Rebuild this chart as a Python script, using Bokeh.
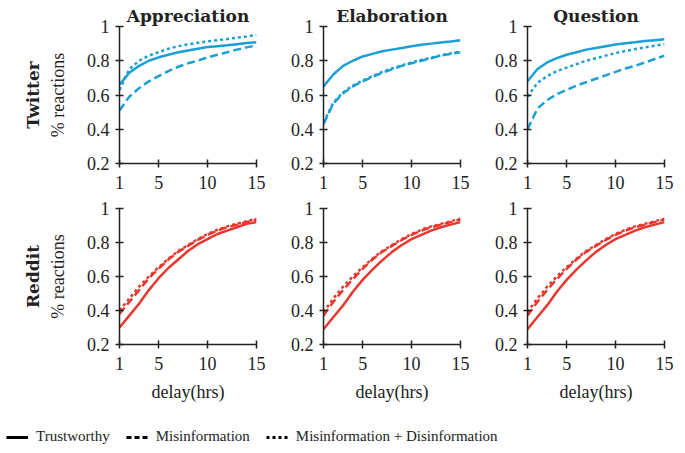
from bokeh.plotting import figure
from bokeh.layouts import row, column
from bokeh.models import FixedTicker, CustomJSTickFormatter, Title, Legend, LegendItem, Range1d
from bokeh.embed import file_html
from bokeh.resources import INLINE

# ---------------- data ----------------
delays = list(range(1, 16))
categories = ["Appreciation", "Elaboration", "Question"]
platforms = ["Twitter", "Reddit"]
series_names = ["Trustworthy", "Misinformation", "Misinformation + Disinformation"]
x_ticks = [1, 5, 10, 15]
y_ticks = [0.2, 0.4, 0.6, 0.8, 1.0]

tw_app_trust = [0.66, 0.73, 0.77, 0.80, 0.82, 0.835, 0.85, 0.86, 0.87, 0.88, 0.885, 0.89, 0.897, 0.903, 0.908]
tw_app_mis = [0.51, 0.59, 0.64, 0.68, 0.71, 0.74, 0.765, 0.785, 0.80, 0.82, 0.835, 0.85, 0.865, 0.878, 0.89]
tw_app_misdis = [0.63, 0.75, 0.80, 0.83, 0.85, 0.87, 0.885, 0.895, 0.905, 0.913, 0.92, 0.927, 0.935, 0.942, 0.95]

tw_ela_trust = [0.65, 0.72, 0.77, 0.80, 0.825, 0.84, 0.855, 0.865, 0.875, 0.885, 0.893, 0.90, 0.907, 0.913, 0.92]
tw_ela_mis = [0.43, 0.55, 0.61, 0.65, 0.68, 0.705, 0.73, 0.75, 0.77, 0.785, 0.80, 0.815, 0.83, 0.84, 0.85]
tw_ela_misdis = [0.44, 0.555, 0.615, 0.655, 0.685, 0.71, 0.735, 0.755, 0.773, 0.79, 0.805, 0.818, 0.832, 0.843, 0.853]

tw_que_trust = [0.68, 0.75, 0.79, 0.815, 0.835, 0.85, 0.865, 0.875, 0.885, 0.895, 0.902, 0.908, 0.915, 0.92, 0.925]
tw_que_mis = [0.40, 0.52, 0.57, 0.605, 0.63, 0.655, 0.675, 0.695, 0.715, 0.735, 0.755, 0.77, 0.79, 0.81, 0.83]
tw_que_misdis = [0.59, 0.67, 0.71, 0.74, 0.76, 0.78, 0.80, 0.815, 0.83, 0.845, 0.857, 0.868, 0.878, 0.888, 0.897]

rd_app_trust = [0.30, 0.37, 0.44, 0.52, 0.59, 0.65, 0.70, 0.75, 0.79, 0.82, 0.85, 0.87, 0.89, 0.91, 0.92]
rd_app_mis = [0.38, 0.45, 0.52, 0.59, 0.645, 0.70, 0.745, 0.78, 0.815, 0.845, 0.87, 0.89, 0.905, 0.92, 0.935]
rd_app_misdis = [0.40, 0.47, 0.54, 0.60, 0.655, 0.705, 0.75, 0.785, 0.82, 0.85, 0.875, 0.895, 0.91, 0.925, 0.94]

rd_ela_trust = [0.29, 0.36, 0.43, 0.51, 0.58, 0.64, 0.695, 0.745, 0.785, 0.82, 0.845, 0.87, 0.89, 0.905, 0.92]
rd_ela_mis = [0.37, 0.45, 0.52, 0.585, 0.645, 0.70, 0.745, 0.78, 0.815, 0.845, 0.87, 0.89, 0.905, 0.92, 0.935]
rd_ela_misdis = [0.39, 0.47, 0.54, 0.60, 0.655, 0.705, 0.75, 0.785, 0.82, 0.85, 0.875, 0.895, 0.91, 0.925, 0.94]

rd_que_trust = [0.29, 0.36, 0.43, 0.51, 0.58, 0.64, 0.695, 0.745, 0.785, 0.82, 0.845, 0.87, 0.89, 0.905, 0.92]
rd_que_mis = [0.37, 0.45, 0.52, 0.585, 0.645, 0.70, 0.745, 0.78, 0.815, 0.845, 0.87, 0.89, 0.905, 0.92, 0.935]
rd_que_misdis = [0.39, 0.47, 0.54, 0.60, 0.655, 0.705, 0.75, 0.785, 0.82, 0.85, 0.875, 0.895, 0.91, 0.925, 0.94]

panel_data = {
    ("Twitter", "Appreciation"): (tw_app_trust, tw_app_mis, tw_app_misdis),
    ("Twitter", "Elaboration"): (tw_ela_trust, tw_ela_mis, tw_ela_misdis),
    ("Twitter", "Question"): (tw_que_trust, tw_que_mis, tw_que_misdis),
    ("Reddit", "Appreciation"): (rd_app_trust, rd_app_mis, rd_app_misdis),
    ("Reddit", "Elaboration"): (rd_ela_trust, rd_ela_mis, rd_ela_misdis),
    ("Reddit", "Question"): (rd_que_trust, rd_que_mis, rd_que_misdis),
}

# ---------------- style ----------------
FONT = "Liberation Serif"
BOLD_FONT = "DejaVu Serif"
INK = "#222222"
colors = {"Twitter": "#1b9fd6", "Reddit": "#e8372e"}
dashes = ["solid", "8 4", "3 3"]

FRAME_W = 137
left_b = [119, 43, 43]
right_b = [24, 24, 13]
row_top = [26, 10]
row_frame = [137, 136]
row_bottom = [35, 62]

tick_fmt = CustomJSTickFormatter(code="return tick.toString()")


def style_axis(ax):
    ax.axis_line_color = INK
    ax.axis_line_width = 1.5
    ax.major_tick_line_color = INK
    ax.major_tick_line_width = 1.5
    ax.major_tick_in = 4
    ax.major_tick_out = 4
    ax.minor_tick_line_color = None
    ax.major_label_text_font = FONT
    ax.major_label_text_font_size = "18px"
    ax.major_label_text_color = INK
    ax.axis_label_text_font = FONT
    ax.axis_label_text_font_size = "18px"
    ax.axis_label_text_font_style = "normal"
    ax.axis_label_text_color = INK


rows = []
for ri, plat in enumerate(platforms):
    figs = []
    for ci, cat in enumerate(categories):
        p = figure(
            width=left_b[ci] + FRAME_W + right_b[ci],
            height=row_top[ri] + row_frame[ri] + row_bottom[ri],
            x_range=Range1d(1, 15), y_range=Range1d(0.2, 1.0),
            output_backend="svg", toolbar_location=None,
            min_border_left=left_b[ci], min_border_right=right_b[ci],
            min_border_top=row_top[ri], min_border_bottom=row_bottom[ri],
        )
        p.grid.visible = False
        p.outline_line_color = None
        p.xaxis.ticker = FixedTicker(ticks=x_ticks)
        p.yaxis.ticker = FixedTicker(ticks=y_ticks)
        p.yaxis.formatter = tick_fmt
        style_axis(p.xaxis[0])
        style_axis(p.yaxis[0])
        p.xaxis.major_label_standoff = 8
        p.yaxis.major_label_standoff = 6
        if ri == 0:
            p.title.text = cat
            p.title.align = "center"
            p.title.text_font = BOLD_FONT
            p.title.text_font_size = "17px"
            p.title.text_font_style = "bold"
            p.title.text_color = INK
            p.title.standoff = 2
            p.title.offset = 0
        else:
            p.xaxis.axis_label = "delay(hrs)"
            p.xaxis.axis_label_standoff = 9
        if ci == 0:
            p.yaxis.axis_label = "% reactions"
            p.yaxis.axis_label_standoff = 16
            p.add_layout(Title(text=plat, text_font=BOLD_FONT, text_font_size="17px",
                               text_font_style="bold", text_color=INK, align="center",
                               standoff=4), "left")
        vals = panel_data[(plat, cat)]
        for si in range(3):
            p.line(delays, vals[si], line_color=colors[plat], line_width=2.5,
                   line_dash=dashes[si])
        figs.append(p)
    rows.append(row(*figs))

# ---------------- legend strip ----------------
lg = figure(width=677, height=44, x_range=Range1d(0, 1), y_range=Range1d(0, 1),
            output_backend="svg", toolbar_location=None,
            x_axis_type=None, y_axis_type=None,
            min_border_left=0, min_border_right=0, min_border_top=0, min_border_bottom=0)
lg.grid.visible = False
lg.outline_line_color = None
items = []
legend_dashes = ["solid", "5 3", "3 3"]
for si, name in enumerate(series_names):
    r = lg.line([-10, -9], [-10, -10], line_color="black", line_width=3,
                line_dash=legend_dashes[si])
    items.append(LegendItem(label=name, renderers=[r]))
leg = Legend(items=items, orientation="horizontal", location=(6, 5),
             padding=0, margin=0, spacing=16, glyph_width=22, glyph_height=16,
             label_standoff=8, label_height=16,
             label_text_font=FONT, label_text_font_size="15px", label_text_color=INK,
             border_line_color=None, background_fill_alpha=0)
lg.add_layout(leg, "center")

layout = column(rows[0], rows[1], lg)
open("out.html", "w").write(file_html(layout, INLINE))
